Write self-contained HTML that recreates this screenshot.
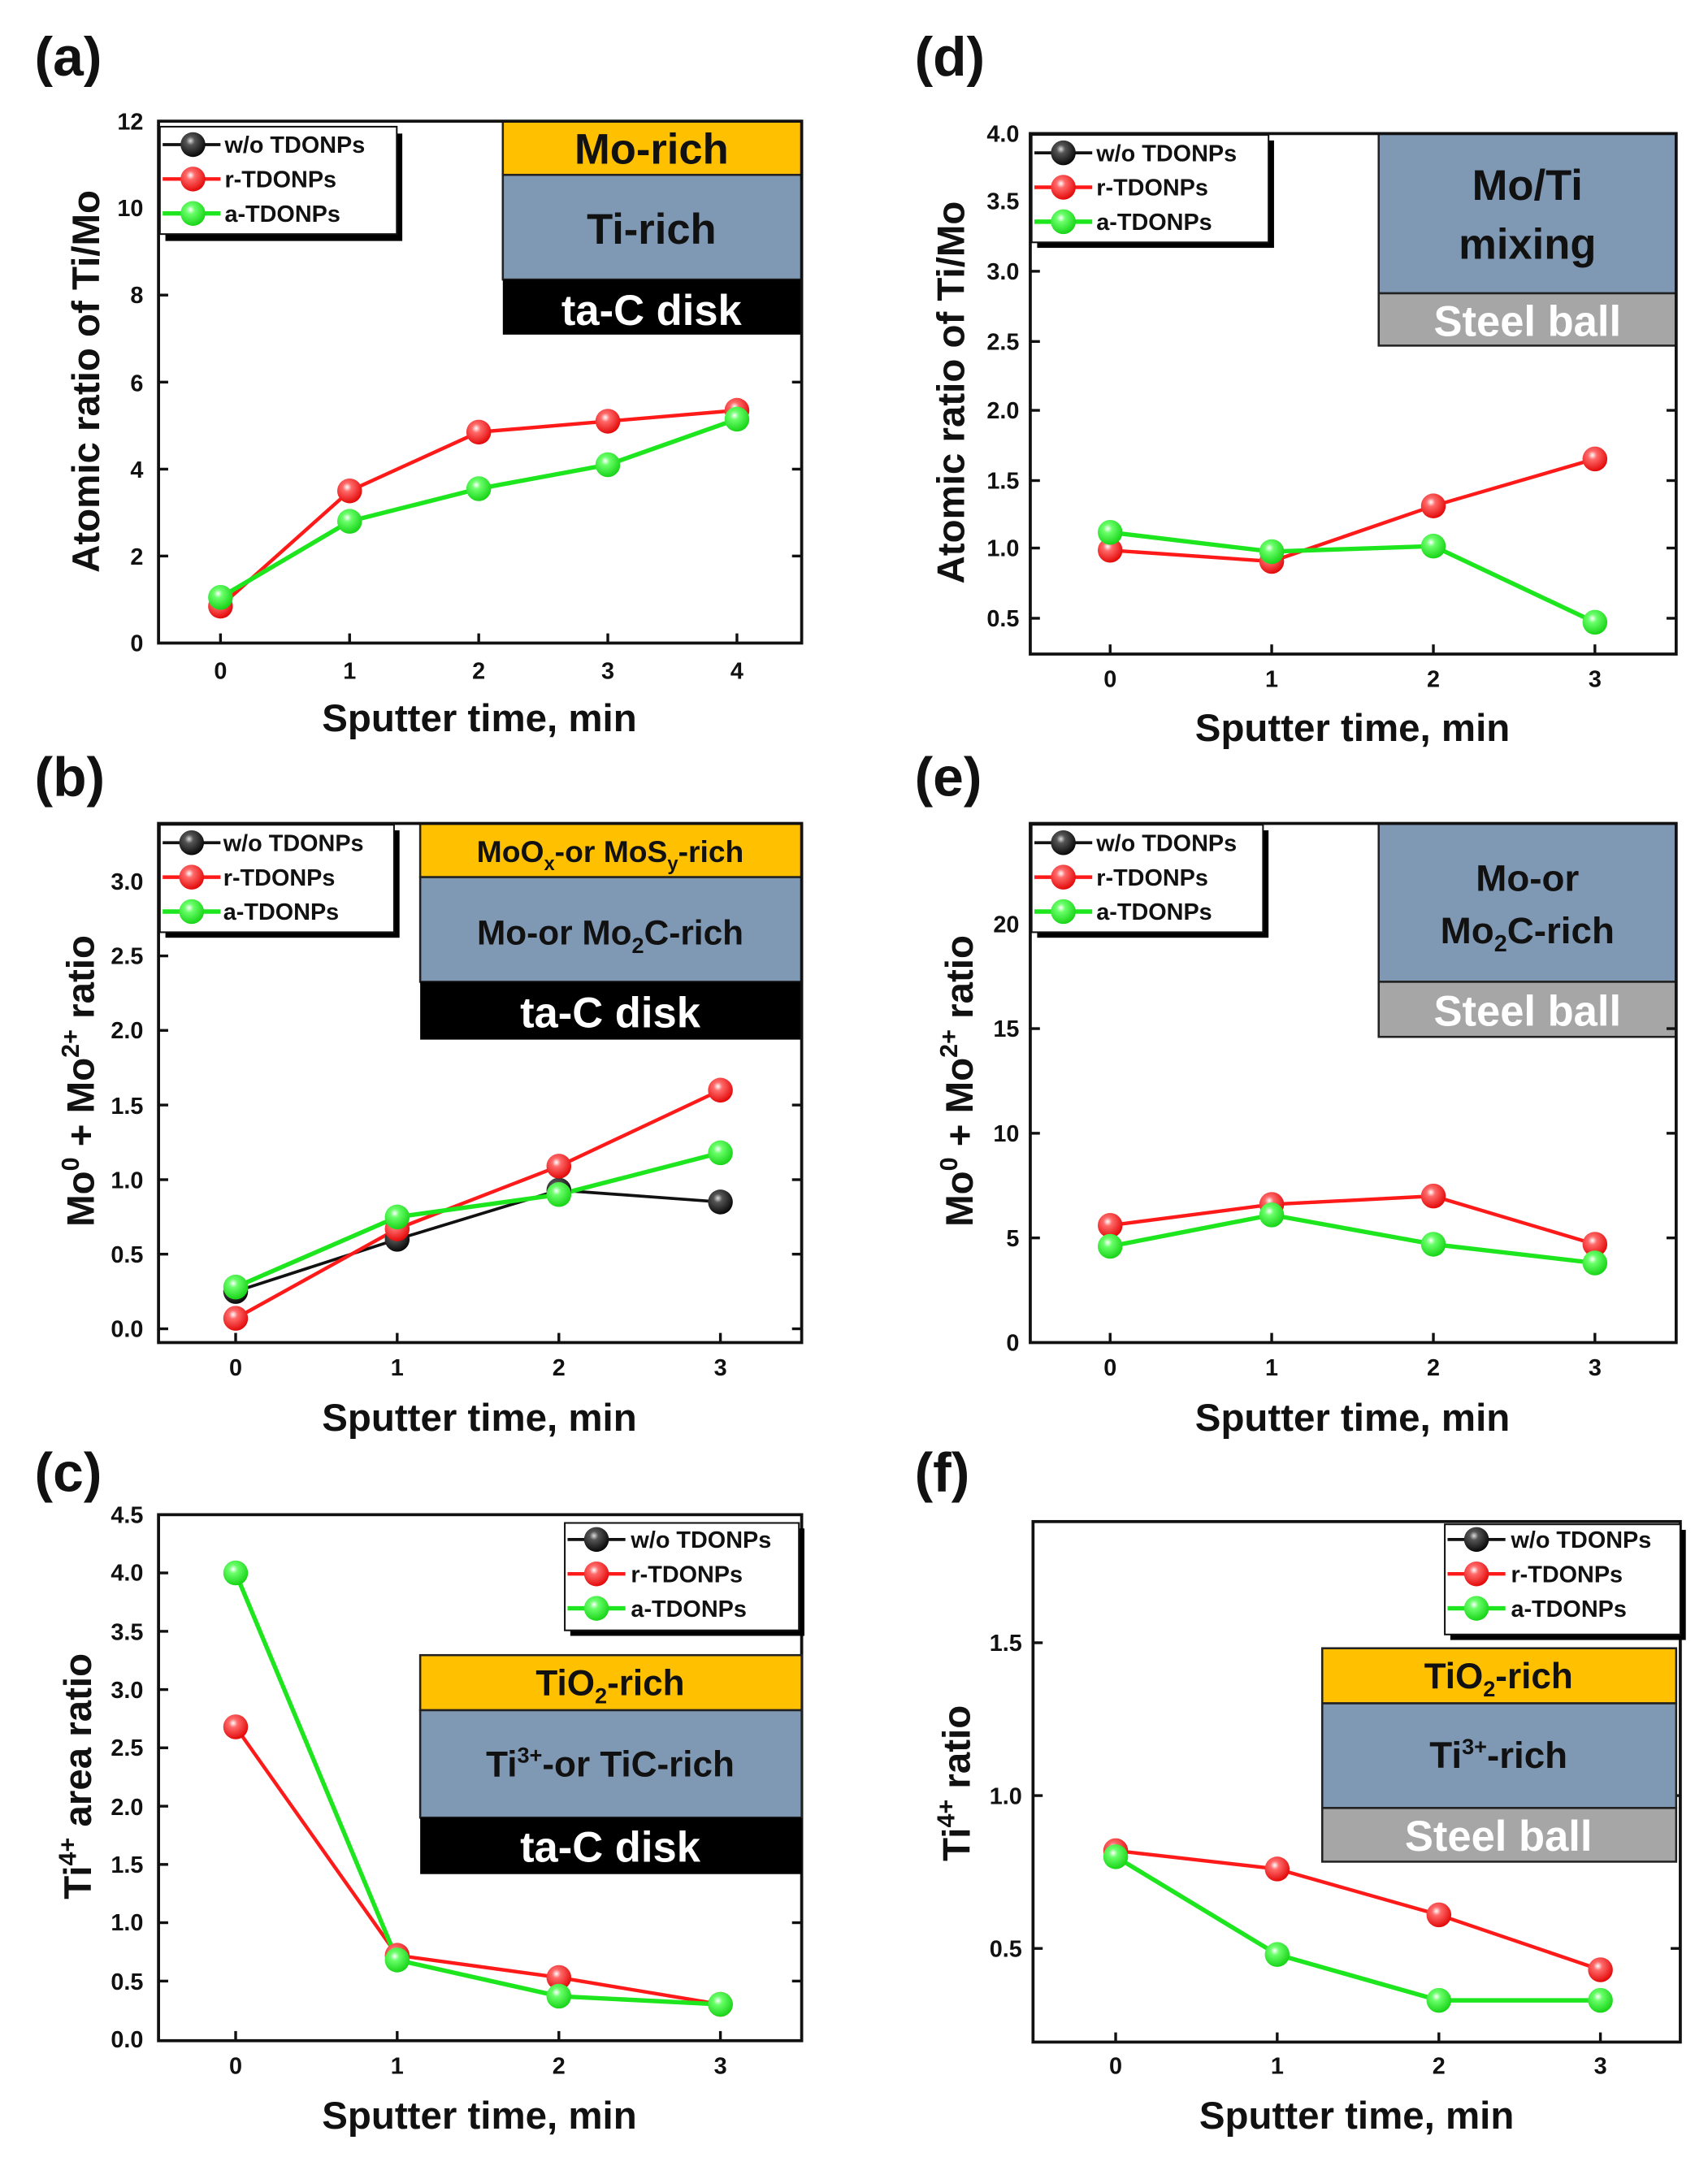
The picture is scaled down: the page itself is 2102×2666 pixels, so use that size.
<!DOCTYPE html>
<html><head><meta charset="utf-8"><style>
html,body{margin:0;padding:0;background:#fff;}
svg{display:block;}
text{font-family:"Liberation Sans",Arial,sans-serif;font-weight:bold;}
.tk{font-size:17px;fill:#111;}
.tt{font-size:28px;fill:#111;}
.pl{font-size:40px;fill:#111;}
.lg{font-size:17px;fill:#111;}
.bx{font-size:31px;}
.fr{fill:none;stroke:#111;stroke-width:2.2;}
.t{stroke:#111;stroke-width:2;}
.r{fill:none;stroke:#ff1a1a;stroke-width:2.6;}
.g{fill:none;stroke:#1ee61e;stroke-width:3.2;}
.k{fill:none;stroke:#111;stroke-width:2.2;}
circle{r:9px;}
</style></head><body>
<svg width="2102" height="2666" viewBox="0 0 1240 1573" xmlns="http://www.w3.org/2000/svg">
<defs>
<radialGradient id="gr" cx="0.4" cy="0.35" r="0.7"><stop offset="0" stop-color="#fff"/><stop offset="0.25" stop-color="#ff6a6a"/><stop offset="1" stop-color="#e00000"/></radialGradient>
<radialGradient id="gg" cx="0.4" cy="0.35" r="0.7"><stop offset="0" stop-color="#fff"/><stop offset="0.25" stop-color="#6aff6a"/><stop offset="1" stop-color="#10d010"/></radialGradient>
<radialGradient id="gk" cx="0.4" cy="0.35" r="0.7"><stop offset="0" stop-color="#ddd"/><stop offset="0.25" stop-color="#555"/><stop offset="1" stop-color="#000"/></radialGradient>
</defs>

<!-- ===== (a) ===== -->
<text class="pl" x="25" y="55">(a)</text>
<g>
<rect x="365" y="88" width="217" height="39" fill="#ffc000" stroke="#222" stroke-width="1.5"/>
<rect x="365" y="127" width="217" height="76" fill="#7f98b3" stroke="#222" stroke-width="1.5"/>
<rect x="365" y="203" width="217" height="40" fill="#000"/>
<text class="bx" x="473" y="119" text-anchor="middle" fill="#111">Mo-rich</text>
<text class="bx" x="473" y="177" text-anchor="middle" fill="#111">Ti-rich</text>
<text class="bx" x="473" y="236" text-anchor="middle" fill="#fff">ta-C disk</text>
</g>
<rect class="fr" x="115" y="88" width="467" height="379"/>
<g class="t">
<line x1="115" y1="403.8" x2="122" y2="403.8"/><line x1="115" y1="340.7" x2="122" y2="340.7"/><line x1="115" y1="277.5" x2="122" y2="277.5"/><line x1="115" y1="214.3" x2="122" y2="214.3"/><line x1="115" y1="151.2" x2="122" y2="151.2"/>
<line x1="575" y1="403.8" x2="582" y2="403.8"/><line x1="575" y1="340.7" x2="582" y2="340.7"/><line x1="575" y1="277.5" x2="582" y2="277.5"/>
<line x1="160" y1="467" x2="160" y2="460"/><line x1="253.75" y1="467" x2="253.75" y2="460"/><line x1="347.5" y1="467" x2="347.5" y2="460"/><line x1="441.25" y1="467" x2="441.25" y2="460"/><line x1="535" y1="467" x2="535" y2="460"/>
</g>
<g class="tk" text-anchor="end">
<text x="104" y="473">0</text><text x="104" y="410">2</text><text x="104" y="347">4</text><text x="104" y="284">6</text><text x="104" y="220">8</text><text x="104" y="157">10</text><text x="104" y="94">12</text>
</g>
<g class="tk" text-anchor="middle">
<text x="160" y="493">0</text><text x="253.75" y="493">1</text><text x="347.5" y="493">2</text><text x="441.25" y="493">3</text><text x="535" y="493">4</text>
</g>
<text class="tt" x="348" y="531" text-anchor="middle">Sputter time, min</text>
<text class="tt" transform="translate(72,277) rotate(-90)" text-anchor="middle">Atomic ratio of Ti/Mo</text>
<polyline class="r" points="160,440.2 253.75,356.5 347.5,313.8 441.25,305.9 535,298"/>
<polyline class="g" points="160,433.8 253.75,378.6 347.5,354.9 441.25,337.5 535,304.4"/>
<g fill="url(#gr)"><circle cx="160" cy="440.2" r="8"/><circle cx="253.75" cy="356.5" r="8"/><circle cx="347.5" cy="313.8" r="8"/><circle cx="441.25" cy="305.9" r="8"/><circle cx="535" cy="298" r="8"/></g>
<g fill="url(#gg)"><circle cx="160" cy="433.8" r="8"/><circle cx="253.75" cy="378.6" r="8"/><circle cx="347.5" cy="354.9" r="8"/><circle cx="441.25" cy="337.5" r="8"/><circle cx="535" cy="304.4" r="8"/></g>
<rect x="120" y="97" width="172" height="78" fill="#000"/>
<rect x="116" y="92" width="172" height="78" fill="#fff" stroke="#111" stroke-width="1.2"/>
<line class="k" x1="118" y1="105" x2="160" y2="105"/><circle cx="140" cy="105" r="7.5" fill="url(#gk)"/><text class="lg" x="163" y="111">w/o TDONPs</text>
<line class="r" x1="118" y1="130" x2="160" y2="130"/><circle cx="140" cy="130" r="7.5" fill="url(#gr)"/><text class="lg" x="163" y="136">r-TDONPs</text>
<line class="g" x1="118" y1="155" x2="160" y2="155"/><circle cx="140" cy="155" r="7.5" fill="url(#gg)"/><text class="lg" x="163" y="161">a-TDONPs</text>

<!-- ===== (d) ===== -->
<text class="pl" x="664" y="55">(d)</text>
<rect x="1001" y="97" width="216" height="116" fill="#7f98b3" stroke="#222" stroke-width="1.5"/>
<rect x="1001" y="213" width="216" height="38" fill="#a6a6a6" stroke="#222" stroke-width="1.5"/>
<text class="bx" x="1109" y="145" text-anchor="middle" fill="#111">Mo/Ti</text>
<text class="bx" x="1109" y="188" text-anchor="middle" fill="#111">mixing</text>
<text class="bx" x="1109" y="244" text-anchor="middle" fill="#fff">Steel ball</text>
<rect class="fr" x="748" y="97" width="469" height="378"/>
<g class="t">
<line x1="748" y1="449" x2="755" y2="449"/><line x1="748" y1="398" x2="755" y2="398"/><line x1="748" y1="349" x2="755" y2="349"/><line x1="748" y1="298" x2="755" y2="298"/><line x1="748" y1="248" x2="755" y2="248"/><line x1="748" y1="197" x2="755" y2="197"/><line x1="748" y1="146" x2="755" y2="146"/>
<line x1="1210" y1="449" x2="1217" y2="449"/><line x1="1210" y1="398" x2="1217" y2="398"/><line x1="1210" y1="349" x2="1217" y2="349"/><line x1="1210" y1="298" x2="1217" y2="298"/>
<line x1="806" y1="475" x2="806" y2="468"/><line x1="923.3" y1="475" x2="923.3" y2="468"/><line x1="1040.7" y1="475" x2="1040.7" y2="468"/><line x1="1158" y1="475" x2="1158" y2="468"/>
</g>
<g class="tk" text-anchor="end">
<text x="740" y="455">0.5</text><text x="740" y="404">1.0</text><text x="740" y="355">1.5</text><text x="740" y="304">2.0</text><text x="740" y="254">2.5</text><text x="740" y="203">3.0</text><text x="740" y="152">3.5</text><text x="740" y="103">4.0</text>
</g>
<g class="tk" text-anchor="middle">
<text x="806" y="499">0</text><text x="923.3" y="499">1</text><text x="1040.7" y="499">2</text><text x="1158" y="499">3</text>
</g>
<text class="tt" x="982" y="538" text-anchor="middle">Sputter time, min</text>
<text class="tt" transform="translate(700,285) rotate(-90)" text-anchor="middle">Atomic ratio of Ti/Mo</text>
<polyline class="r" points="806,399.6 923.3,407.7 1040.7,367.4 1158,333.3"/>
<polyline class="g" points="806,386.6 923.3,400.6 1040.7,396.6 1158,451.9"/>
<g fill="url(#gr)"><circle cx="806" cy="399.6" r="8"/><circle cx="923.3" cy="407.7" r="8"/><circle cx="1040.7" cy="367.4" r="8"/><circle cx="1158" cy="333.3" r="8"/></g>
<g fill="url(#gg)"><circle cx="806" cy="386.6" r="8"/><circle cx="923.3" cy="400.6" r="8"/><circle cx="1040.7" cy="396.6" r="8"/><circle cx="1158" cy="451.9" r="8"/></g>
<rect x="753" y="102" width="172" height="78" fill="#000"/>
<rect x="749" y="98" width="172" height="78" fill="#fff" stroke="#111" stroke-width="1.2"/>
<line class="k" x1="751" y1="111" x2="793" y2="111"/><circle cx="772" cy="111" r="7.5" fill="url(#gk)"/><text class="lg" x="796" y="117">w/o TDONPs</text>
<line class="r" x1="751" y1="136" x2="793" y2="136"/><circle cx="772" cy="136" r="7.5" fill="url(#gr)"/><text class="lg" x="796" y="142">r-TDONPs</text>
<line class="g" x1="751" y1="161" x2="793" y2="161"/><circle cx="772" cy="161" r="7.5" fill="url(#gg)"/><text class="lg" x="796" y="167">a-TDONPs</text>

<!-- ===== (b) ===== -->
<text class="pl" x="25" y="578">(b)</text>
<rect x="305" y="598" width="277" height="39" fill="#ffc000" stroke="#222" stroke-width="1.5"/>
<rect x="305" y="637" width="277" height="76" fill="#7f98b3" stroke="#222" stroke-width="1.5"/>
<rect x="305" y="713" width="277" height="42" fill="#000"/>
<text x="443" y="626" text-anchor="middle" font-size="22" fill="#111">MoO<tspan font-size="14" dy="6">x</tspan><tspan dy="-6">-or MoS</tspan><tspan font-size="14" dy="6">y</tspan><tspan dy="-6">-rich</tspan></text>
<text x="443" y="686" text-anchor="middle" font-size="25" fill="#111">Mo-or Mo<tspan font-size="16" dy="6">2</tspan><tspan dy="-6">C-rich</tspan></text>
<text class="bx" x="443" y="746" text-anchor="middle" fill="#fff">ta-C disk</text>
<rect class="fr" x="115" y="598" width="467" height="377"/>
<g class="t">
<line x1="115" y1="910.8" x2="122" y2="910.8"/><line x1="115" y1="856.7" x2="122" y2="856.7"/><line x1="115" y1="802.5" x2="122" y2="802.5"/><line x1="115" y1="748.3" x2="122" y2="748.3"/><line x1="115" y1="694.2" x2="122" y2="694.2"/><line x1="115" y1="965" x2="122" y2="965"/>
<line x1="575" y1="910.8" x2="582" y2="910.8"/><line x1="575" y1="856.7" x2="582" y2="856.7"/><line x1="575" y1="802.5" x2="582" y2="802.5"/><line x1="575" y1="965" x2="582" y2="965"/>
<line x1="171" y1="975" x2="171" y2="968"/><line x1="288.3" y1="975" x2="288.3" y2="968"/><line x1="405.7" y1="975" x2="405.7" y2="968"/><line x1="523" y1="975" x2="523" y2="968"/>
</g>
<g class="tk" text-anchor="end">
<text x="104" y="971">0.0</text><text x="104" y="917">0.5</text><text x="104" y="863">1.0</text><text x="104" y="809">1.5</text><text x="104" y="754">2.0</text><text x="104" y="700">2.5</text><text x="104" y="646">3.0</text>
</g>
<g class="tk" text-anchor="middle">
<text x="171" y="999">0</text><text x="288.3" y="999">1</text><text x="405.7" y="999">2</text><text x="523" y="999">3</text>
</g>
<text class="tt" x="348" y="1039" text-anchor="middle">Sputter time, min</text>
<text class="tt" transform="translate(68,785) rotate(-90)" text-anchor="middle">Mo<tspan font-size="18" dy="-11">0</tspan><tspan dy="11"> + Mo</tspan><tspan font-size="18" dy="-11">2+</tspan><tspan dy="11"> ratio</tspan></text>
<polyline class="k" points="171,937.9 288.3,900 405.7,864.3 523,872.9"/>
<polyline class="r" points="171,957.4 288.3,892.4 405.7,846.9 523,791.7"/>
<polyline class="g" points="171,934.7 288.3,883.8 405.7,867.5 523,837.2"/>
<g fill="url(#gk)"><circle cx="171" cy="937.9" r="8"/><circle cx="288.3" cy="900" r="8"/><circle cx="405.7" cy="864.3" r="8"/><circle cx="523" cy="872.9" r="8"/></g>
<g fill="url(#gr)"><circle cx="171" cy="957.4" r="8"/><circle cx="288.3" cy="892.4" r="8"/><circle cx="405.7" cy="846.9" r="8"/><circle cx="523" cy="791.7" r="8"/></g>
<g fill="url(#gg)"><circle cx="171" cy="934.7" r="8"/><circle cx="288.3" cy="883.8" r="8"/><circle cx="405.7" cy="867.5" r="8"/><circle cx="523" cy="837.2" r="8"/></g>
<rect x="120" y="603" width="170" height="78" fill="#000"/>
<rect x="116" y="599" width="170" height="78" fill="#fff" stroke="#111" stroke-width="1.2"/>
<line class="k" x1="118" y1="612" x2="160" y2="612"/><circle cx="139" cy="612" r="7.5" fill="url(#gk)"/><text class="lg" x="162" y="618">w/o TDONPs</text>
<line class="r" x1="118" y1="637" x2="160" y2="637"/><circle cx="139" cy="637" r="7.5" fill="url(#gr)"/><text class="lg" x="162" y="643">r-TDONPs</text>
<line class="g" x1="118" y1="662" x2="160" y2="662"/><circle cx="139" cy="662" r="7.5" fill="url(#gg)"/><text class="lg" x="162" y="668">a-TDONPs</text>

<!-- ===== (e) ===== -->
<text class="pl" x="664" y="578">(e)</text>
<rect x="1001" y="598" width="216" height="115" fill="#7f98b3" stroke="#222" stroke-width="1.5"/>
<rect x="1001" y="713" width="216" height="40" fill="#a6a6a6" stroke="#222" stroke-width="1.5"/>
<text x="1109" y="647" text-anchor="middle" font-size="27" fill="#111">Mo-or</text>
<text x="1109" y="685" text-anchor="middle" font-size="27" fill="#111">Mo<tspan font-size="17" dy="6">2</tspan><tspan dy="-6">C-rich</tspan></text>
<text class="bx" x="1109" y="745" text-anchor="middle" fill="#fff">Steel ball</text>
<rect class="fr" x="748" y="598" width="469" height="377"/>
<g class="t">
<line x1="748" y1="899" x2="755" y2="899"/><line x1="748" y1="823" x2="755" y2="823"/><line x1="748" y1="747" x2="755" y2="747"/><line x1="748" y1="671" x2="755" y2="671"/>
<line x1="1210" y1="899" x2="1217" y2="899"/><line x1="1210" y1="823" x2="1217" y2="823"/><line x1="1210" y1="747" x2="1217" y2="747"/>
<line x1="806" y1="975" x2="806" y2="968"/><line x1="923.3" y1="975" x2="923.3" y2="968"/><line x1="1040.7" y1="975" x2="1040.7" y2="968"/><line x1="1158" y1="975" x2="1158" y2="968"/>
</g>
<g class="tk" text-anchor="end">
<text x="740" y="981">0</text><text x="740" y="905">5</text><text x="740" y="829">10</text><text x="740" y="753">15</text><text x="740" y="677">20</text>
</g>
<g class="tk" text-anchor="middle">
<text x="806" y="999">0</text><text x="923.3" y="999">1</text><text x="1040.7" y="999">2</text><text x="1158" y="999">3</text>
</g>
<text class="tt" x="982" y="1039" text-anchor="middle">Sputter time, min</text>
<text class="tt" transform="translate(706,785) rotate(-90)" text-anchor="middle">Mo<tspan font-size="18" dy="-11">0</tspan><tspan dy="11"> + Mo</tspan><tspan font-size="18" dy="-11">2+</tspan><tspan dy="11"> ratio</tspan></text>
<polyline class="r" points="806,889.9 923.3,874.7 1040.7,868.6 1158,903.6"/>
<polyline class="g" points="806,905.1 923.3,882.3 1040.7,903.6 1158,917.2"/>
<g fill="url(#gr)"><circle cx="806" cy="889.9" r="8"/><circle cx="923.3" cy="874.7" r="8"/><circle cx="1040.7" cy="868.6" r="8"/><circle cx="1158" cy="903.6" r="8"/></g>
<g fill="url(#gg)"><circle cx="806" cy="905.1" r="8"/><circle cx="923.3" cy="882.3" r="8"/><circle cx="1040.7" cy="903.6" r="8"/><circle cx="1158" cy="917.2" r="8"/></g>
<rect x="753" y="603" width="168" height="78" fill="#000"/>
<rect x="749" y="599" width="168" height="78" fill="#fff" stroke="#111" stroke-width="1.2"/>
<line class="k" x1="751" y1="612" x2="793" y2="612"/><circle cx="772" cy="612" r="7.5" fill="url(#gk)"/><text class="lg" x="796" y="618">w/o TDONPs</text>
<line class="r" x1="751" y1="637" x2="793" y2="637"/><circle cx="772" cy="637" r="7.5" fill="url(#gr)"/><text class="lg" x="796" y="643">r-TDONPs</text>
<line class="g" x1="751" y1="662" x2="793" y2="662"/><circle cx="772" cy="662" r="7.5" fill="url(#gg)"/><text class="lg" x="796" y="668">a-TDONPs</text>

<!-- ===== (c) ===== -->
<text class="pl" x="25" y="1083">(c)</text>
<rect class="fr" x="115" y="1100" width="467" height="382"/>
<g class="t">
<line x1="115" y1="1438.7" x2="122" y2="1438.7"/><line x1="115" y1="1396.3" x2="122" y2="1396.3"/><line x1="115" y1="1354" x2="122" y2="1354"/><line x1="115" y1="1311.7" x2="122" y2="1311.7"/><line x1="115" y1="1269.3" x2="122" y2="1269.3"/><line x1="115" y1="1227" x2="122" y2="1227"/><line x1="115" y1="1184.7" x2="122" y2="1184.7"/><line x1="115" y1="1142.3" x2="122" y2="1142.3"/>
<line x1="575" y1="1438.7" x2="582" y2="1438.7"/><line x1="575" y1="1396.3" x2="582" y2="1396.3"/>
<line x1="171" y1="1482" x2="171" y2="1475"/><line x1="288.3" y1="1482" x2="288.3" y2="1475"/><line x1="405.7" y1="1482" x2="405.7" y2="1475"/><line x1="523" y1="1482" x2="523" y2="1475"/>
</g>
<g class="tk" text-anchor="end">
<text x="104" y="1487">0.0</text><text x="104" y="1445">0.5</text><text x="104" y="1402">1.0</text><text x="104" y="1360">1.5</text><text x="104" y="1318">2.0</text><text x="104" y="1275">2.5</text><text x="104" y="1233">3.0</text><text x="104" y="1191">3.5</text><text x="104" y="1148">4.0</text><text x="104" y="1106">4.5</text>
</g>
<g class="tk" text-anchor="middle">
<text x="171" y="1506">0</text><text x="288.3" y="1506">1</text><text x="405.7" y="1506">2</text><text x="523" y="1506">3</text>
</g>
<text class="tt" x="348" y="1546" text-anchor="middle">Sputter time, min</text>
<text class="tt" transform="translate(66,1290) rotate(-90)" text-anchor="middle">Ti<tspan font-size="18" dy="-11">4+</tspan><tspan dy="11"> area ratio</tspan></text>
<rect x="305" y="1202" width="277" height="40" fill="#ffc000" stroke="#222" stroke-width="1.5"/>
<rect x="305" y="1242" width="277" height="78" fill="#7f98b3" stroke="#222" stroke-width="1.5"/>
<rect x="305" y="1320" width="277" height="41" fill="#000"/>
<text x="443" y="1231" text-anchor="middle" font-size="26" fill="#111">TiO<tspan font-size="16" dy="6">2</tspan><tspan dy="-6">-rich</tspan></text>
<text x="443" y="1290" text-anchor="middle" font-size="26" fill="#111">Ti<tspan font-size="16" dy="-10">3+</tspan><tspan dy="10">-or TiC-rich</tspan></text>
<text class="bx" x="443" y="1352" text-anchor="middle" fill="#fff">ta-C disk</text>
<polyline class="r" points="171,1254.1 288.3,1420 405.7,1436.1 523,1455.6"/>
<polyline class="g" points="171,1142.3 288.3,1423.4 405.7,1449.7 523,1455.6"/>
<g fill="url(#gr)"><circle cx="171" cy="1254.1" r="8"/><circle cx="288.3" cy="1420" r="8"/><circle cx="405.7" cy="1436.1" r="8"/><circle cx="523" cy="1455.6" r="8"/></g>
<g fill="url(#gg)"><circle cx="171" cy="1142.3" r="8"/><circle cx="288.3" cy="1423.4" r="8"/><circle cx="405.7" cy="1449.7" r="8"/><circle cx="523" cy="1455.6" r="8"/></g>
<rect x="414" y="1110" width="170" height="78" fill="#000"/>
<rect x="410" y="1106" width="170" height="78" fill="#fff" stroke="#111" stroke-width="1.2"/>
<line class="k" x1="412" y1="1118" x2="454" y2="1118"/><circle cx="433" cy="1118" r="7.5" fill="url(#gk)"/><text class="lg" x="458" y="1124">w/o TDONPs</text>
<line class="r" x1="412" y1="1143" x2="454" y2="1143"/><circle cx="433" cy="1143" r="7.5" fill="url(#gr)"/><text class="lg" x="458" y="1149">r-TDONPs</text>
<line class="g" x1="412" y1="1168" x2="454" y2="1168"/><circle cx="433" cy="1168" r="7.5" fill="url(#gg)"/><text class="lg" x="458" y="1174">a-TDONPs</text>

<!-- ===== (f) ===== -->
<text class="pl" x="664" y="1083">(f)</text>
<rect class="fr" x="750" y="1105" width="470" height="378"/>
<g class="t">
<line x1="750" y1="1415" x2="757" y2="1415"/><line x1="750" y1="1304" x2="757" y2="1304"/><line x1="750" y1="1193" x2="757" y2="1193"/>
<line x1="1213" y1="1415" x2="1220" y2="1415"/><line x1="1213" y1="1304" x2="1220" y2="1304"/>
<line x1="810" y1="1483" x2="810" y2="1476"/><line x1="927.3" y1="1483" x2="927.3" y2="1476"/><line x1="1044.7" y1="1483" x2="1044.7" y2="1476"/><line x1="1162" y1="1483" x2="1162" y2="1476"/>
</g>
<g class="tk" text-anchor="end">
<text x="742" y="1421">0.5</text><text x="742" y="1310">1.0</text><text x="742" y="1199">1.5</text>
</g>
<g class="tk" text-anchor="middle">
<text x="810" y="1506">0</text><text x="927.3" y="1506">1</text><text x="1044.7" y="1506">2</text><text x="1162" y="1506">3</text>
</g>
<text class="tt" x="985" y="1546" text-anchor="middle">Sputter time, min</text>
<text class="tt" transform="translate(704,1295) rotate(-90)" text-anchor="middle">Ti<tspan font-size="18" dy="-11">4+</tspan><tspan dy="11"> ratio</tspan></text>
<rect x="960" y="1197" width="257" height="40" fill="#ffc000" stroke="#222" stroke-width="1.5"/>
<rect x="960" y="1237" width="257" height="76" fill="#7f98b3" stroke="#222" stroke-width="1.5"/>
<rect x="960" y="1313" width="257" height="39" fill="#a6a6a6" stroke="#222" stroke-width="1.5"/>
<text x="1088" y="1226" text-anchor="middle" font-size="26" fill="#111">TiO<tspan font-size="16" dy="6">2</tspan><tspan dy="-6">-rich</tspan></text>
<text x="1088" y="1284" text-anchor="middle" font-size="27" fill="#111">Ti<tspan font-size="16" dy="-10">3+</tspan><tspan dy="10">-rich</tspan></text>
<text class="bx" x="1088" y="1344" text-anchor="middle" fill="#fff">Steel ball</text>
<polyline class="r" points="810,1344 927.3,1357.3 1044.7,1390.6 1162,1430.5"/>
<polyline class="g" points="810,1348.4 927.3,1419.4 1044.7,1452.7 1162,1452.7"/>
<g fill="url(#gr)"><circle cx="810" cy="1344" r="8"/><circle cx="927.3" cy="1357.3" r="8"/><circle cx="1044.7" cy="1390.6" r="8"/><circle cx="1162" cy="1430.5" r="8"/></g>
<g fill="url(#gg)"><circle cx="810" cy="1348.4" r="8"/><circle cx="927.3" cy="1419.4" r="8"/><circle cx="1044.7" cy="1452.7" r="8"/><circle cx="1162" cy="1452.7" r="8"/></g>
<rect x="1053" y="1111" width="171" height="80" fill="#000"/>
<rect x="1049" y="1107" width="171" height="80" fill="#fff" stroke="#111" stroke-width="1.2"/>
<line class="k" x1="1051" y1="1118" x2="1093" y2="1118"/><circle cx="1072" cy="1118" r="7.5" fill="url(#gk)"/><text class="lg" x="1097" y="1124">w/o TDONPs</text>
<line class="r" x1="1051" y1="1143" x2="1093" y2="1143"/><circle cx="1072" cy="1143" r="7.5" fill="url(#gr)"/><text class="lg" x="1097" y="1149">r-TDONPs</text>
<line class="g" x1="1051" y1="1168" x2="1093" y2="1168"/><circle cx="1072" cy="1168" r="7.5" fill="url(#gg)"/><text class="lg" x="1097" y="1174">a-TDONPs</text>
</svg>
</body></html>
